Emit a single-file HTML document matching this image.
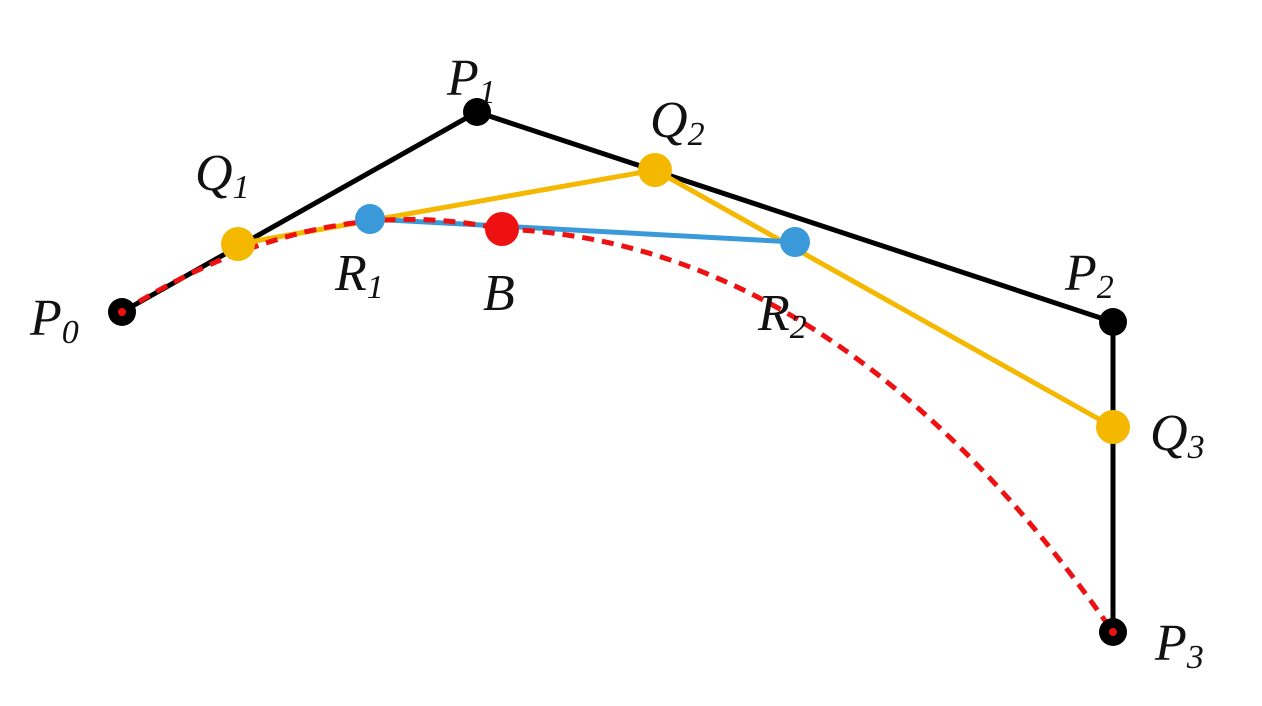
<!DOCTYPE html>
<html><head><style>
html,body{margin:0;padding:0;background:#fff;}
svg{display:block;}
text{font-family:"Liberation Serif",serif;font-style:italic;fill:#111;}
</style></head><body>
<svg width="1262" height="706" viewBox="0 0 1262 706" xmlns="http://www.w3.org/2000/svg">
<polyline points="122,312 477,112 1113,322 1113,632" fill="none" stroke="#000" stroke-width="5"/>
<polyline points="238,244 655,170 1113,427" fill="none" stroke="#f5b800" stroke-width="5"/>
<line x1="370" y1="219" x2="795" y2="242" stroke="#3a9ad9" stroke-width="5"/>
<path d="M122,312 C300,200 430,215 502,229 C800,240 1000,470 1113,632" fill="none" stroke="#ee1111" stroke-width="5" stroke-dasharray="12,8"/>
<circle cx="477" cy="112" r="14" fill="#000"/>
<circle cx="1113" cy="322" r="14" fill="#000"/>
<circle cx="122" cy="312" r="14" fill="#000"/>
<circle cx="122" cy="312" r="4" fill="#e11"/>
<circle cx="1113" cy="632" r="14" fill="#000"/>
<circle cx="1113" cy="632" r="4" fill="#e11"/>
<circle cx="238" cy="244" r="17" fill="#f5b800"/>
<circle cx="655" cy="170" r="17" fill="#f5b800"/>
<circle cx="1113" cy="427" r="17" fill="#f5b800"/>
<circle cx="370" cy="219" r="15" fill="#3a9ad9"/>
<circle cx="795" cy="242" r="15" fill="#3a9ad9"/>
<circle cx="502" cy="229" r="17" fill="#ee1111"/>
<text x="447" y="95" font-size="52">P<tspan font-size="34" dy="8">1</tspan></text>
<text x="195" y="190" font-size="52">Q<tspan font-size="34" dy="8">1</tspan></text>
<text x="30" y="335" font-size="52">P<tspan font-size="34" dy="8">0</tspan></text>
<text x="335" y="290" font-size="52">R<tspan font-size="34" dy="8">1</tspan></text>
<text x="483" y="310" font-size="52">B</text>
<text x="758" y="330" font-size="52">R<tspan font-size="34" dy="8">2</tspan></text>
<text x="650" y="137" font-size="52">Q<tspan font-size="34" dy="8">2</tspan></text>
<text x="1065" y="290" font-size="52">P<tspan font-size="34" dy="8">2</tspan></text>
<text x="1150" y="450" font-size="52">Q<tspan font-size="34" dy="8">3</tspan></text>
<text x="1155" y="660" font-size="52">P<tspan font-size="34" dy="8">3</tspan></text>
</svg>
</body></html>
